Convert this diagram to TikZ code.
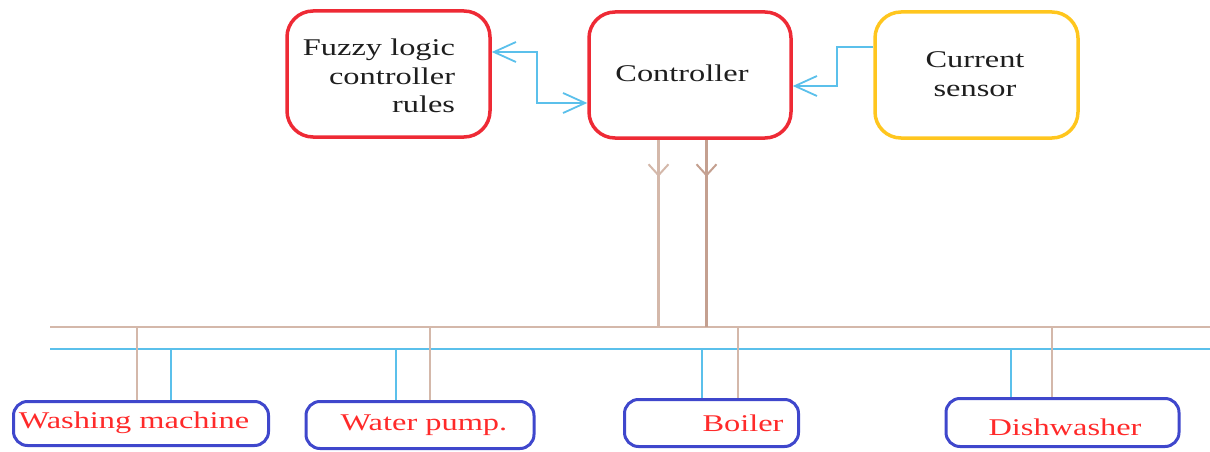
\documentclass[tikz,border=0pt]{standalone}
\usepackage{fontspec}
\setmainfont{Liberation Serif}
\usepackage{graphicx}
\usetikzlibrary{arrows.meta}
\definecolor{boxred}{HTML}{EE2A35}
\definecolor{boxyel}{HTML}{FFC61E}
\definecolor{boxblue}{HTML}{3F47CC}
\definecolor{txtred}{HTML}{FF2A2A}
\definecolor{lineblue}{HTML}{5BC0EB}
\definecolor{brownA}{HTML}{D4B8AA}
\definecolor{brownB}{HTML}{C4A090}
\definecolor{txtdark}{HTML}{1E1E1E}
\newcommand{\hsx}[1]{\scalebox{1.35}[1]{#1}}
\begin{document}
\begin{tikzpicture}[x=1pt,y=-1pt,
  topbox/.style={draw, line width=3.5pt, rounded corners=26pt, minimum width=203pt, minimum height=126pt, inner sep=0pt},
  botbox/.style={draw=boxblue, line width=3pt, rounded corners=14pt, inner sep=0pt},
  toptxt/.style={inner sep=0pt, text=txtdark, font=\fontsize{24}{28.5}\selectfont},
  bottxt/.style={inner sep=0pt, text=txtred, font=\fontsize{24}{28.5}\selectfont},
  bluecon/.style={draw=lineblue, line width=1.8pt},
  barb/.style={Straight Barb[length=22pt,width=20pt]},
  brownbarb/.style={Straight Barb[length=11pt,width=20pt]},
  buslineA/.style={draw=brownA, line width=2pt},
  buslineB/.style={draw=lineblue, line width=2pt}
]
\useasboundingbox (0,0) rectangle (1210,452);

% top boxes
\node[topbox, draw=boxred] (fuzzy) at (388.5,74) {};
\node[topbox, draw=boxred, minimum width=202pt] (ctrl) at (690,75) {};
\node[topbox, draw=boxyel] (cur) at (976.5,75) {};

\node[toptxt, align=right] (fuzzytxt) at (379,76) {\hsx{Fuzzy logic}\\\hsx{controller}\\\hsx{rules}};
\node[toptxt] (ctrltxt) at (682,73) {\hsx{Controller}};
\node[toptxt, align=center] (curtxt) at (975,74) {\hsx{Current}\\\hsx{sensor}};

% blue connectors
\draw[bluecon, {Straight Barb[length=22pt,width=20pt]}-{Straight Barb[length=22pt,width=20pt]}]
  ([yshift=22pt]fuzzy.east) -- ++(45,0) |- ([yshift=-28pt]ctrl.west);
\draw[bluecon, -{Straight Barb[length=22pt,width=20pt]}]
  ([yshift=28pt]cur.west) -- ++(-36,0) |- ([yshift=-11pt]ctrl.east);

% buses
\coordinate (bL) at (50,327);
\coordinate (bR) at (1210,327);
\coordinate (cL) at (50,349);
\coordinate (cR) at (1210,349);
\draw[buslineA] (bL) -- (bR);
\draw[buslineB] (cL) -- (cR);

% controller outputs
\coordinate (j1) at (658.5,327);
\coordinate (j2) at (706.5,327);
\draw[draw=brownA, line width=2.5pt] (ctrl.south -| j1) -- (j1);
\draw[draw=brownB, line width=2.5pt] (ctrl.south -| j2) -- (j2);
\draw[draw=brownA, line width=2pt, -{Straight Barb[length=11pt,width=20pt]}] (ctrl.south -| j1) -- ++(0,37);
\draw[draw=brownB, line width=2pt, -{Straight Barb[length=11pt,width=20pt]}] (ctrl.south -| j2) -- ++(0,37);

% bottom boxes
\node[botbox, minimum width=255pt, minimum height=44pt] (wash) at (141,423.5) {};
\node[botbox, minimum width=228pt, minimum height=47pt] (pump) at (420,425) {};
\node[botbox, minimum width=174pt, minimum height=47pt] (boil) at (711.5,423) {};
\node[botbox, minimum width=233pt, minimum height=48pt] (dish) at (1062.5,422.5) {};

\node[bottxt] (washtxt) at (134,423) {\hsx{Washing machine}};
\node[bottxt] (pumptxt) at (424,425) {\hsx{Water pump.}};
\node[bottxt] (boiltxt) at (743,423) {\hsx{Boiler}};
\node[bottxt] (dishtxt) at (1065,427) {\hsx{Dishwasher}};

% drops
\coordinate (w1) at (137,327);
\coordinate (w2) at (171,349);
\coordinate (p1) at (396,349);
\coordinate (p2) at (430,327);
\coordinate (o1) at (702,349);
\coordinate (o2) at (738,327);
\coordinate (d1) at (1011,349);
\coordinate (d2) at (1052,327);
\draw[buslineA] (w1) -- (w1 |- wash.north);
\draw[buslineB] (w2) -- (w2 |- wash.north);
\draw[buslineB] (p1) -- (p1 |- pump.north);
\draw[buslineA] (p2) -- (p2 |- pump.north);
\draw[buslineB] (o1) -- (o1 |- boil.north);
\draw[buslineA] (o2) -- (o2 |- boil.north);
\draw[buslineB] (d1) -- (d1 |- dish.north);
\draw[buslineA] (d2) -- (d2 |- dish.north);
\end{tikzpicture}
\end{document}
